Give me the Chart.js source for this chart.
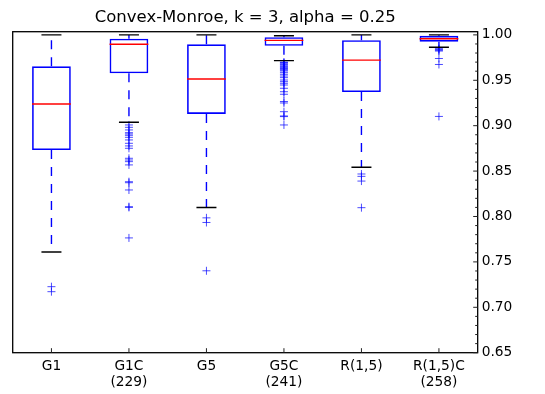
<!DOCTYPE html>
<html>
<head>
<meta charset="utf-8">
<script src="https://cdn.jsdelivr.net/npm/chart.js@4/dist/chart.umd.min.js"></script>
<style>
  html, body { margin: 0; padding: 0; background: #fff; }
  canvas { display: block; }
</style>
</head>
<body>
<canvas id="c" width="545" height="394"></canvas>
<script>
// ---- data ----
const categories = ['G1', 'G1C', 'G5', 'G5C', 'R(1,5)', 'R(1,5)C'];
const tickLabels = [['G1'], ['G1C', '(229)'], ['G5'], ['G5C', '(241)'], ['R(1,5)'], ['R(1,5)C', '(258)']];
const whiskerHigh = [1.000, 1.000, 1.000, 0.9990, 1.000, 1.000];
const q3Values    = [0.9654, 0.9958, 0.9896, 0.9975, 0.9942, 0.9990];
const medians     = [0.9239, 0.9896, 0.9514, 0.9940, 0.9722, 0.9957];
const q1Values    = [0.8732, 0.9577, 0.9130, 0.9880, 0.9371, 0.9925];
const whiskerLow  = [0.7609, 0.9037, 0.8099, 0.9716, 0.8542, 0.9863];
const outliers = [
  [0.7227, 0.7172],
  [0.9008, 0.8982, 0.8953, 0.8923, 0.8909, 0.8894, 0.8872, 0.8843, 0.8806, 0.8777, 0.8751,
   0.8641, 0.8622, 0.8604, 0.8568, 0.8383, 0.8372, 0.8292, 0.8108, 0.8100, 0.7764],
  [0.7985, 0.7934, 0.7402],
  [0.9700, 0.9694, 0.9688, 0.9676, 0.9668, 0.9657, 0.9649, 0.9639, 0.9630, 0.9621, 0.9612, 0.9602,
   0.9584, 0.9566, 0.9547, 0.9529, 0.9503, 0.9485, 0.9467, 0.9448, 0.9412, 0.9374, 0.9346,
   0.9266, 0.9250, 0.9154, 0.9107, 0.9100, 0.9008],
  [0.8468, 0.8442, 0.8390, 0.8097],
  [0.9848, 0.9840, 0.9830, 0.9822, 0.9740, 0.9674, 0.9102]
];
const yTickValues = [0.65, 0.70, 0.75, 0.80, 0.85, 0.90, 0.95, 1.00];
const titleText = 'Convex-Monroe, k = 3, alpha = 0.25';

// ---- build datasets from the arrays ----
const boxData = categories.map((c, i) => ({ x: c, y: [q1Values[i], q3Values[i]] }));
const medianData = categories.map((c, i) => ({ x: c, y: medians[i] }));
const capData = [];
const whiskerData = [];
categories.forEach((c, i) => {
  capData.push({ x: c, y: whiskerHigh[i] }, { x: c, y: whiskerLow[i] });
  whiskerData.push({ x: c, y: q1Values[i] }, { x: c, y: whiskerLow[i] }, { x: c, y: null });
  whiskerData.push({ x: c, y: q3Values[i] }, { x: c, y: whiskerHigh[i] }, { x: c, y: null });
});
const outlierData = [];
categories.forEach((c, i) => outliers[i].forEach(v => outlierData.push({ x: c, y: v })));

const FONT = 'DejaVu Sans';

const framePlugin = {
  id: 'frame',
  afterDraw(chart) {
    const { ctx, chartArea: a, scales: { x, y } } = chart;
    ctx.save();
    ctx.strokeStyle = '#000';
    ctx.lineWidth = 1.3;
    ctx.strokeRect(a.left, a.top, a.right - a.left, a.bottom - a.top);
    ctx.lineWidth = 1;
    ctx.strokeStyle = '#222';
    const seg = (x1, y1, x2, y2) => { ctx.beginPath(); ctx.moveTo(x1, y1); ctx.lineTo(x2, y2); ctx.stroke(); };
    x.ticks.forEach((t, i) => { const px = x.getPixelForTick(i); seg(px, a.bottom, px, a.bottom - 4.5); });
    yTickValues.forEach((v, i) => {
      const py = y.getPixelForValue(v);
      seg(a.right, py, a.right - 4.5, py);
      if (i < yTickValues.length - 1) {
        const step = (yTickValues[i + 1] - v) / 5;
        for (let k = 1; k < 5; k++) {
          const pm = y.getPixelForValue(v + k * step);
          seg(a.right, pm, a.right - 2.5, pm);
        }
      }
    });
    ctx.restore();
  }
};

new Chart(document.getElementById('c'), {
  type: 'bar',
  data: {
    labels: categories,
    datasets: [
      {
        type: 'line', label: 'whiskers', data: whiskerData,
        borderColor: '#0000ff', borderWidth: 1.4, borderDash: [9, 8],
        pointRadius: 0, spanGaps: false, fill: false, tension: 0, order: 3
      },
      {
        type: 'bar', label: 'box', data: boxData,
        backgroundColor: 'rgba(0,0,0,0)', borderColor: '#0000ff', borderWidth: 1.6,
        borderSkipped: false, barPercentage: 0.5, categoryPercentage: 1.0, order: 2
      },
      {
        type: 'line', label: 'caps', data: capData, showLine: false,
        pointStyle: 'line', pointRadius: 10, pointBorderColor: '#000', pointBorderWidth: 1.4,
        pointHoverRadius: 10, order: 1
      },
      {
        type: 'line', label: 'median', data: medianData, showLine: false,
        pointStyle: 'line', pointRadius: 19.4, pointBorderColor: '#ff0000', pointBorderWidth: 1.4,
        pointHoverRadius: 19.4, order: 0
      },
      {
        type: 'line', label: 'outliers', data: outlierData, showLine: false,
        pointStyle: 'cross', pointRadius: 4, pointBorderColor: 'rgba(0,0,255,0.7)', pointBorderWidth: 1,
        pointHoverRadius: 4, order: 4
      }
    ]
  },
  options: {
    responsive: false,
    animation: false,
    events: [],
    layout: { autoPadding: false, padding: { left: 12.7, right: 28.7, top: 0, bottom: 0 } },
    plugins: {
      legend: { display: false },
      tooltip: { enabled: false },
      title: {
        display: true, text: titleText, color: '#000', fullSize: false,
        font: { family: FONT, size: 16.5, weight: 'normal', lineHeight: 1.2 },
        padding: { top: 7.6, bottom: 4.3 }
      }
    },
    scales: {
      x: {
        type: 'category', labels: categories, offset: true,
        grid: { display: false, drawTicks: false, tickLength: 0 },
        border: { display: false },
        afterFit: (scale) => { scale.height = 41.3; },
        ticks: {
          color: '#000', font: { family: FONT, size: 13.75, lineHeight: 1.2 },
          padding: 5, maxRotation: 0, autoSkip: false,
          callback: (v, i) => tickLabels[i]
        }
      },
      y: {
        type: 'linear', position: 'right', min: 0.65, max: 1.0035,
        grid: { display: false, drawTicks: false, tickLength: 0 },
        border: { display: false },
        afterBuildTicks: (scale) => { scale.ticks = yTickValues.map(v => ({ value: v })); },
        ticks: {
          color: '#000', font: { family: FONT, size: 13.75, lineHeight: 1.2 },
          padding: 4, autoSkip: false,
          callback: (v) => Number(v).toFixed(2)
        }
      }
    }
  },
  plugins: [framePlugin]
});
</script>
</body>
</html>
